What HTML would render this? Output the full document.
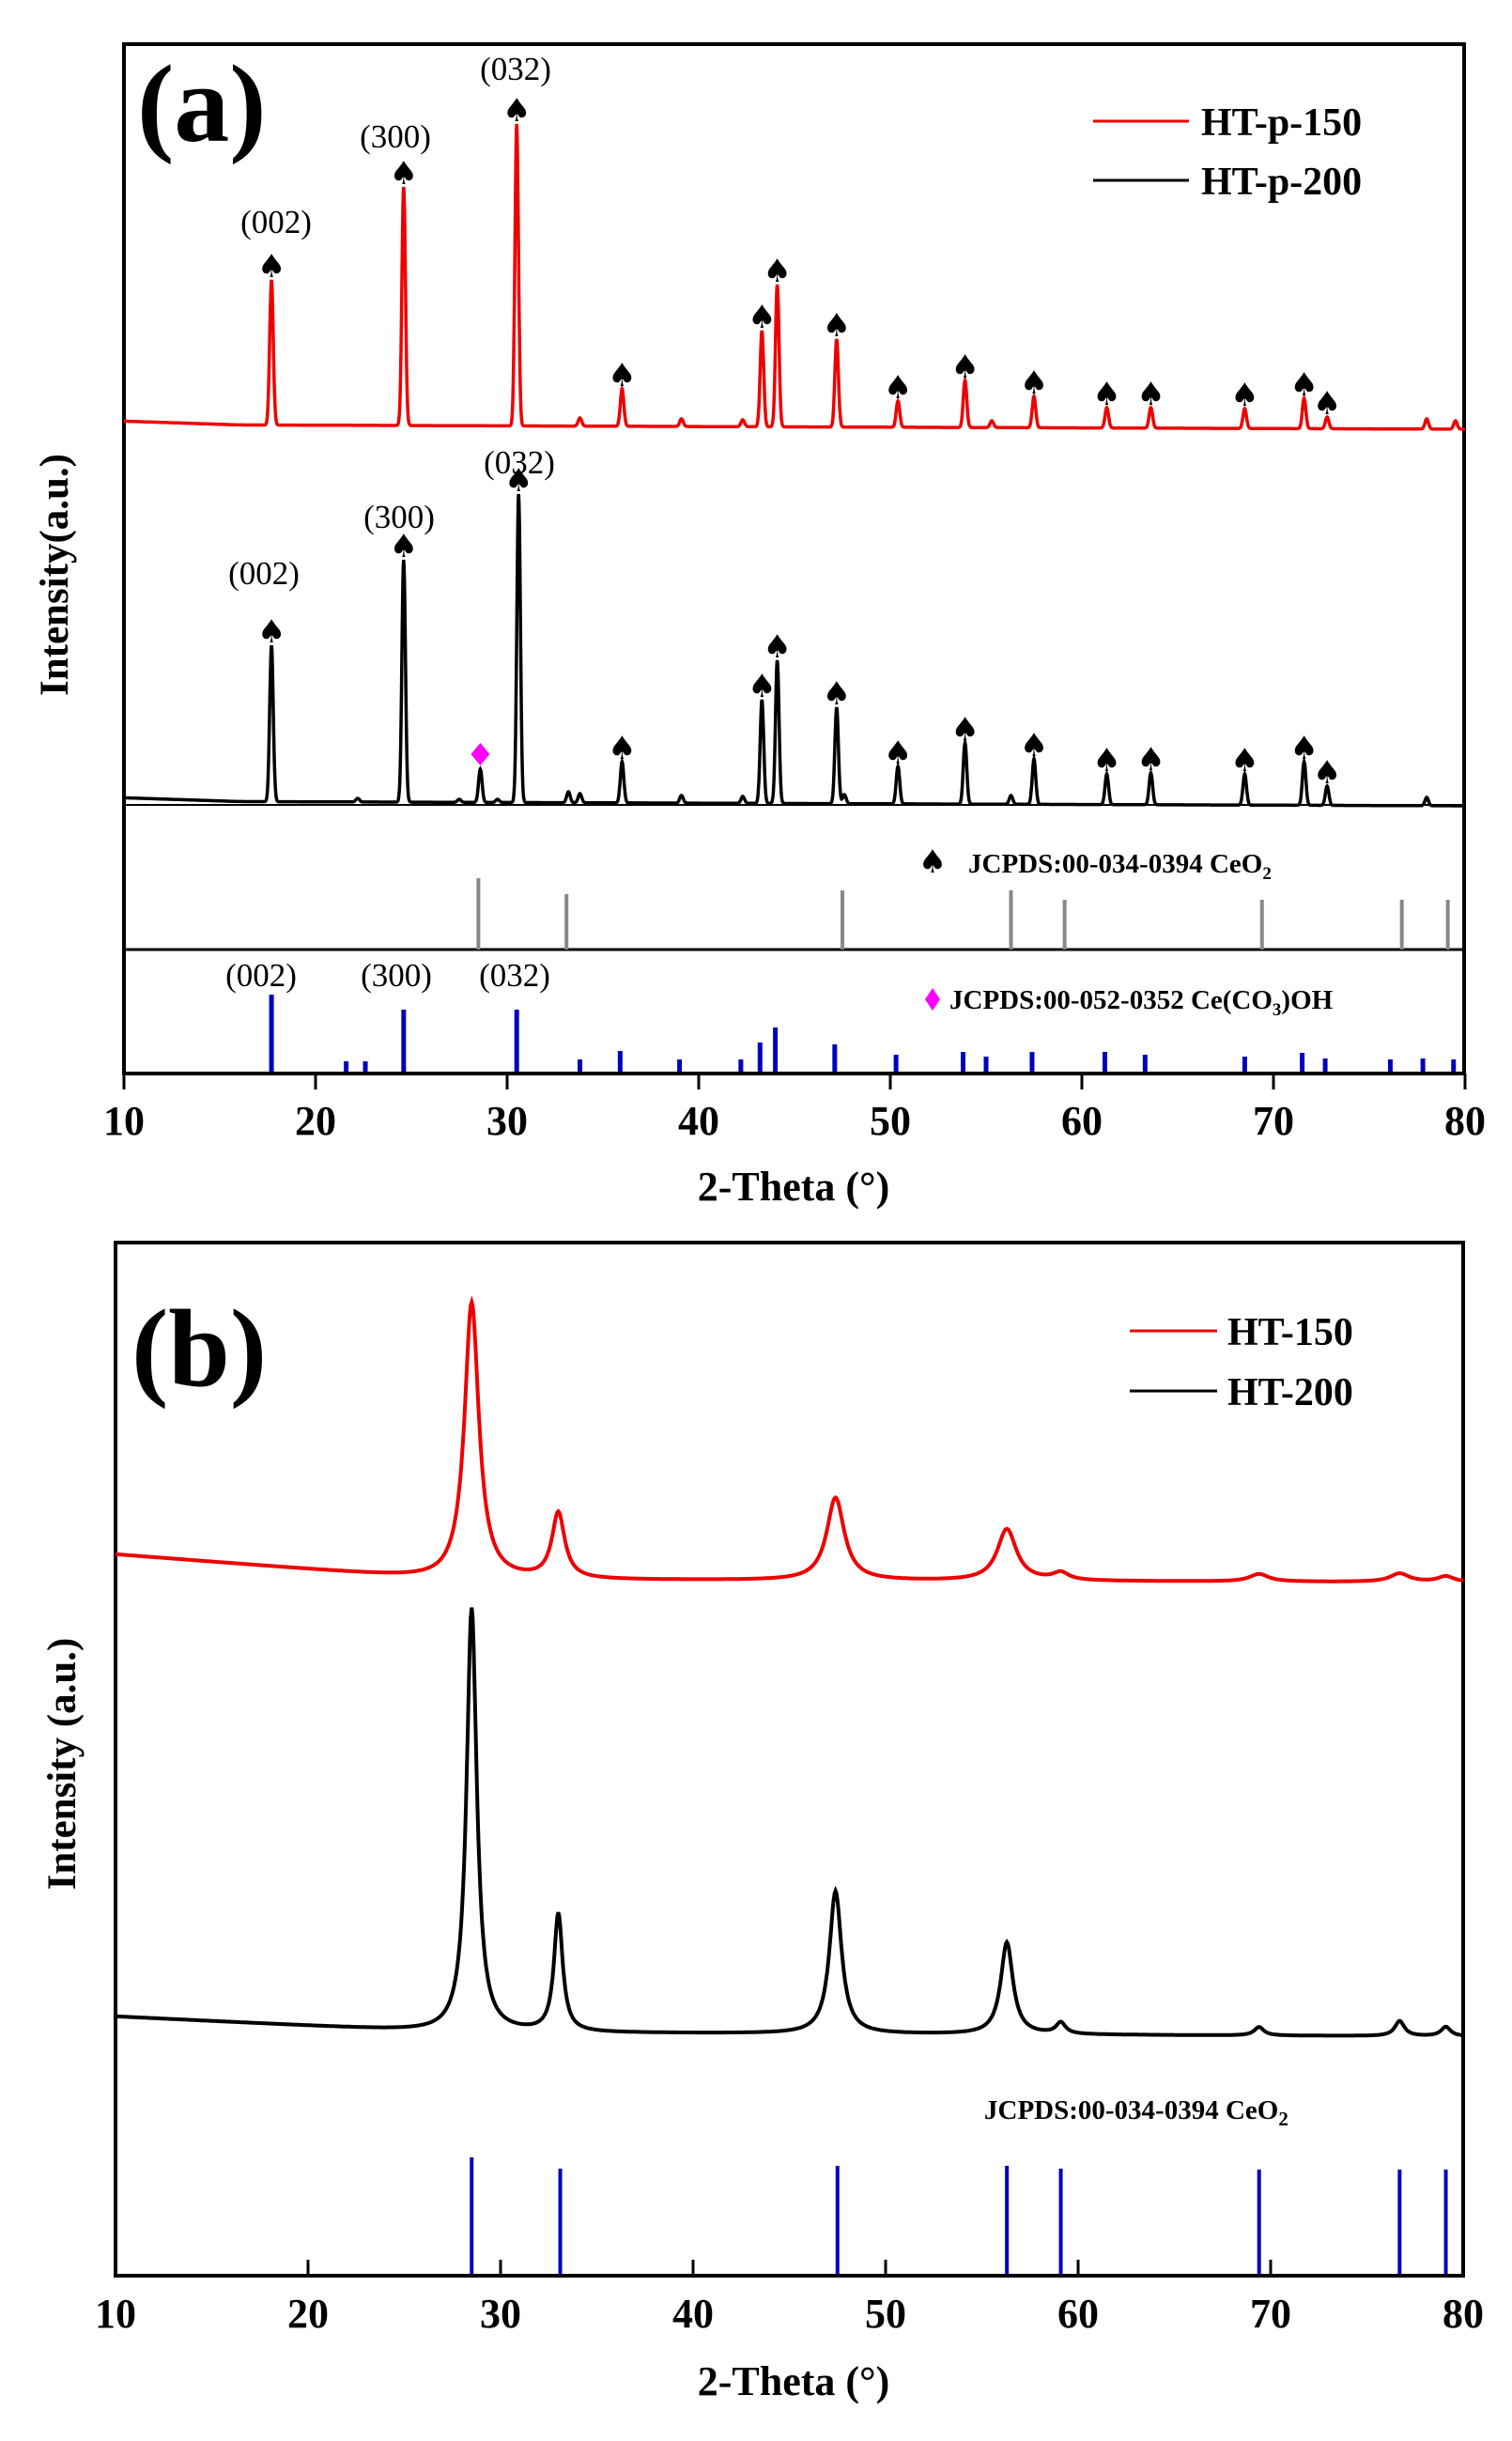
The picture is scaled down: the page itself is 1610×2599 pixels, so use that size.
<!DOCTYPE html>
<html><head><meta charset="utf-8">
<style>
html,body{margin:0;padding:0;background:#fff;}
svg{display:block;font-family:"Liberation Serif",serif;}
.tk{font-size:44px;font-weight:bold;text-anchor:middle;}
.hkl{font-size:35px;text-anchor:middle;}
.lg{font-size:42px;font-weight:bold;}
.jc{font-size:29px;font-weight:bold;}
</style></head>
<body>
<svg id="s" width="1610" height="2599" viewBox="0 0 1610 2599" xmlns="http://www.w3.org/2000/svg">
<rect width="1610" height="2599" fill="#fff"/>
<rect x="132" y="47" width="1427" height="1096" fill="none" stroke="#000" stroke-width="4"/>
<line x1="132" y1="1011" x2="1559" y2="1011" stroke="#000" stroke-width="3"/>
<line x1="132" y1="857" x2="1559" y2="857" stroke="#000" stroke-width="2"/>
<g id="ga"></g>
<text x="146" y="150" font-size="118" font-weight="bold">(a)</text>
<text class="hkl" x="294" y="248">(002)</text>
<text class="hkl" x="421" y="157">(300)</text>
<text class="hkl" x="549" y="85">(032)</text>
<text class="hkl" x="281" y="622">(002)</text>
<text class="hkl" x="425" y="562">(300)</text>
<text class="hkl" x="553" y="504">(032)</text>
<text class="hkl" x="278" y="1050">(002)</text>
<text class="hkl" x="422" y="1050">(300)</text>
<text class="hkl" x="548" y="1050">(032)</text>
<line x1="1164" y1="129" x2="1266" y2="129" stroke="#e00" stroke-width="3"/>
<text class="lg" x="1279" y="144">HT-p-150</text>
<line x1="1164" y1="192" x2="1266" y2="192" stroke="#000" stroke-width="3"/>
<text class="lg" x="1279" y="207">HT-p-200</text>
<text x="993" y="929" font-size="34" text-anchor="middle" font-family="DejaVu Sans">♠</text>
<text class="jc" x="1031" y="929">JCPDS:00-034-0394 CeO<tspan font-size="19" dy="7">2</tspan></text>
<path d="M993,1052 L1001,1064 L993,1076 L985,1064 Z" fill="#f0f"/>
<text class="jc" x="1011" y="1074">JCPDS:00-052-0352 Ce(CO<tspan font-size="19" dy="7">3</tspan><tspan dy="-7">)OH</tspan></text>
<g id="ta"></g>
<text class="tk" x="845" y="1278">2-Theta (°)</text>
<text x="58" y="612" font-size="43" font-weight="bold" text-anchor="middle" transform="rotate(-90 58 612)" dy="14">Intensity(a.u.)</text>

<rect x="123" y="1323" width="1435" height="1100" fill="none" stroke="#000" stroke-width="4"/>
<g id="gb"></g>
<text x="140" y="1475" font-size="118" font-weight="bold">(b)</text>
<line x1="1203" y1="1417" x2="1296" y2="1417" stroke="#e00" stroke-width="3"/>
<text class="lg" x="1307" y="1432">HT-150</text>
<line x1="1203" y1="1481" x2="1296" y2="1481" stroke="#000" stroke-width="3"/>
<text class="lg" x="1307" y="1496">HT-200</text>
<text class="jc" x="1048" y="2256">JCPDS:00-034-0394 CeO<tspan font-size="21" dy="7">2</tspan></text>
<g id="tb"></g>
<text class="tk" x="845" y="2550">2-Theta (°)</text>
<text x="66" y="1878" font-size="43" font-weight="bold" text-anchor="middle" transform="rotate(-90 66 1878)" dy="14">Intensity (a.u.)</text>
</svg>
<script>
var NS="http://www.w3.org/2000/svg";
function el(p,n,a,t){var e=document.createElementNS(NS,n);for(var k in a)e.setAttribute(k,a[k]);if(t)e.textContent=t;p.appendChild(e);return e;}
var ga=document.getElementById('ga'),gb=document.getElementById('gb'),ta=document.getElementById('ta'),tb=document.getElementById('tb');
function XA(t){return 132+(t-10)*20.4;}
function XB(t){return 123+(t-10)*20.5;}
for(var v=10;v<=80;v+=10){
 var x=XA(v);el(ta,'line',{x1:x,y1:1143,x2:x,y2:1160,stroke:'#000','stroke-width':3});
 el(ta,'text',{x:x,y:1208,'class':'tk'},String(v));
 var xb=XB(v);el(tb,'line',{x1:xb,y1:2423,x2:xb,y2:2406,stroke:'#000','stroke-width':3});
 el(tb,'text',{x:xb,y:2478,'class':'tk'},String(v));
}
var redP=[[17.7,298],[24.6,199],[30.5,132],[36,414],[43.3,352],[44.1,303],[47.2,361],[50.4,427],[53.9,405],[57.5,422],[61.3,434],[63.6,434],[68.5,435],[71.6,424],[72.8,444],[33.8,445],[39.1,446],[42.3,447],[55.3,448],[78,446],[79.5,448]];
var blkP=[[17.7,687],[24.6,596],[30.6,526],[28.6,819],[36,811],[43.3,745],[44.1,703],[47.2,753],[50.4,816],[53.9,791],[57.5,808],[61.3,824],[63.6,823],[68.5,824],[71.6,811],[72.8,837],[33.2,843],[33.8,845],[39.1,847],[42.3,848],[47.6,846],[56.3,847],[22.2,850],[78,849],[27.5,851],[29.5,851]];
function trace(pk,b0,b1,w,X){var d='';for(var t=10;t<=80.001;t+=0.02){var base=b0+(b1-b0)*(t-10)/70;if(t<16)base+=(16-t)*-0.6;var y=base;for(var i=0;i<pk.length;i++){var h=base-pk[i][1];y-=h*Math.exp(-Math.pow((t-pk[i][0])/w,2));}d+=(d?'L':'M')+X(t).toFixed(1)+','+y.toFixed(1);}return d;}
el(ga,'path',{d:trace(redP,452,457,0.13,XA),fill:'none',stroke:'#e00','stroke-width':3.5});
el(ga,'path',{d:trace(blkP,853,858,0.13,XA),fill:'none',stroke:'#000','stroke-width':3.5});
for(var i=0;i<15;i++){el(ga,'text',{x:XA(redP[i][0]),y:redP[i][1]-3,'font-size':34,'text-anchor':'middle','font-family':'DejaVu Sans'},'♠');}
var bk=[0,1,2,4,5,6,7,8,9,10,11,12,13,14,15];
for(var j=0;j<bk.length;j++){var p=blkP[bk[j]];el(ga,'text',{x:XA(p[0]),y:p[1]-3,'font-size':34,'text-anchor':'middle','font-family':'DejaVu Sans'},'♠');}
el(ga,'path',{d:'M'+XA(28.6)+',791 l10,12 l-10,12 l-10,-12 Z',fill:'#f0f'});
[[28.5,935],[33.1,952],[47.5,948],[56.3,948],[59.1,958],[69.4,958],[76.7,958],[79.1,958]].forEach(function(s){el(ga,'line',{x1:XA(s[0]),y1:1011,x2:XA(s[0]),y2:s[1],stroke:'#888','stroke-width':4});});
[[17.7,1059],[21.6,1130],[22.6,1130],[24.6,1075],[30.5,1075],[33.8,1128],[35.9,1119],[39,1128],[42.2,1128],[43.2,1110],[44.0,1094],[47.1,1112],[50.3,1123],[53.8,1120],[55,1125],[57.4,1120],[61.2,1120],[63.3,1123],[68.5,1125],[71.5,1121],[72.7,1127],[76.1,1128],[77.8,1127],[79.4,1128]].forEach(function(s){el(ga,'line',{x1:XA(s[0]),y1:1141,x2:XA(s[0]),y2:s[1],stroke:'#0000c0','stroke-width':5});});
function traceB(pk,bl,X){var d='';for(var t=10;t<=80.001;t+=0.05){var base=bl(t);var y=base;for(var i=0;i<pk.length;i++){var h=pk[i][1];var g=pk[i][2];y-=h/(1+Math.pow((t-pk[i][0])/g,2));}d+=(d?'L':'M')+X(t).toFixed(1)+','+y.toFixed(1);}return d;}
function blR(t){return t<27?1655+(t-10)*1.6:1682+(t-27)*0.05;}
function blK(t){return t<27?2147+(t-10)*1.0:2164+(t-27)*0.08;}
var rP=[[28.5,295,0.45],[33.0,70,0.4],[47.4,88,0.55],[56.3,55,0.6],[59.1,8,0.5],[69.4,8,0.6],[76.7,9,0.6],[79.1,6,0.5]];
var kP=[[28.5,452,0.32],[33.0,126,0.27],[47.4,152,0.38],[56.3,98,0.38],[59.1,12,0.3],[69.4,9,0.3],[76.7,16,0.3],[79.1,10,0.3]];
el(gb,'path',{d:traceB(rP,blR,XB),fill:'none',stroke:'#e00','stroke-width':4});
el(gb,'path',{d:traceB(kP,blK,XB),fill:'none',stroke:'#000','stroke-width':4});
[[28.5,2297],[33.1,2309],[47.5,2306],[56.3,2306],[59.1,2309],[69.4,2310],[76.7,2310],[79.1,2310]].forEach(function(s){el(gb,'line',{x1:XB(s[0]),y1:2421,x2:XB(s[0]),y2:s[1],stroke:'#0000c0','stroke-width':4});});
</script>
</body></html>
